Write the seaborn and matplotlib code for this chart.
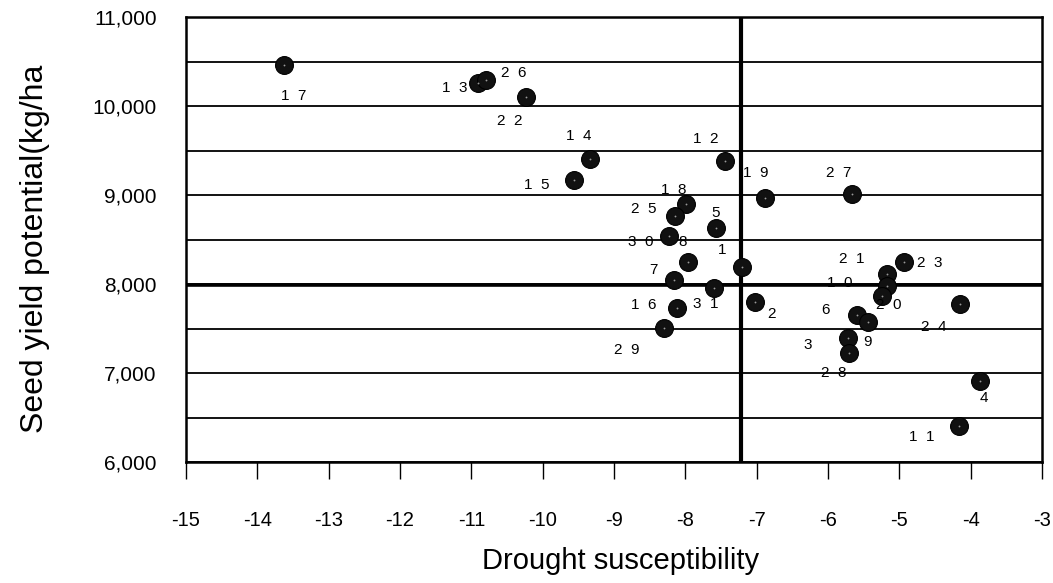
import matplotlib
matplotlib.use("Agg")
import matplotlib.pyplot as plt
import seaborn as sns
import pandas as pd
from matplotlib.ticker import MultipleLocator, FuncFormatter

# ---- data ----
genotypes = ["17", "13", "26", "22", "14", "15", "12", "19", "27", "18", "25", "5",
             "30", "8", "1", "7", "31", "16", "29", "2", "23", "21", "10", "20",
             "24", "6", "9", "3", "28", "4", "11"]
drought_susceptibility = [-13.63, -10.90, -10.80, -10.23, -9.34, -9.56, -7.44, -6.89,
                          -5.67, -7.99, -8.15, -7.57, -8.23, -7.96, -7.21, -8.16,
                          -7.60, -8.12, -8.30, -7.03, -4.94, -5.18, -5.18, -5.24,
                          -4.15, -5.59, -5.44, -5.72, -5.71, -3.87, -4.16]
seed_yield = [10460, 10260, 10290, 10100, 9410, 9170, 9380, 8970, 9010, 8900, 8760,
              8630, 8540, 8250, 8190, 8050, 7960, 7730, 7510, 7800, 8250, 8110,
              7980, 7870, 7770, 7650, 7570, 7390, 7220, 6910, 6410]
ref_x = -7.22   # vertical reference line
ref_y = 7990    # horizontal reference line

# label offsets in points (layout only)
label_offsets = {
    "17": (7, -22), "13": (-17, -4), "26": (20, 5), "22": (-12, -17),
    "14": (-8, 16), "15": (-27, -4), "12": (-14, 16), "19": (-6, 18),
    "27": (-9, 15), "18": (-9, 10), "25": (-22, 5), "5": (0, 11),
    "30": (-20, -4), "8": (-4, 14), "1": (-14, 12), "7": (-15, 7),
    "31": (-6, -12), "16": (-24, 2), "29": (-27, -16), "2": (12, -9),
    "23": (19, -1), "21": (-25, 11), "10": (-34, 2), "20": (5, -7),
    "24": (-19, -16), "6": (-23, 4), "9": (0, -14), "3": (-29, -5),
    "28": (-11, -14), "4": (3, -12), "11": (-27, -8),
}

df = pd.DataFrame({"genotype": genotypes, "ds": drought_susceptibility, "sy": seed_yield})

sns.set_theme(style="white")
plt.rcParams["font.family"] = ["Liberation Sans", "DejaVu Sans"]
plt.rcParams["axes.unicode_minus"] = False

fig = plt.figure(figsize=(10.53, 5.83), dpi=100)
ax = fig.add_axes([0.1766, 0.2075, 0.8130, 0.7633])

ax.set_xlim(-15, -3)
ax.set_ylim(6000, 11000)
ax.yaxis.set_major_locator(MultipleLocator(1000))
ax.yaxis.set_minor_locator(MultipleLocator(500))
ax.yaxis.set_major_formatter(FuncFormatter(lambda v, p: f"{int(v):,}"))
ax.xaxis.set_major_locator(MultipleLocator(1))
ax.grid(False)
ax.yaxis.grid(True, which="both", color="black", linewidth=1.3)
ax.set_axisbelow(True)

# reference lines
ax.axvline(ref_x, color="black", linewidth=3, zorder=2)
ax.axhline(ref_y, color="black", linewidth=2.6, zorder=2)

sns.scatterplot(data=df, x="ds", y="sy", ax=ax, s=165, color="#111111",
                edgecolor="#000000", linewidth=0.8, zorder=3, legend=False)
# speckled texture on markers
ax.scatter(df["ds"], df["sy"], s=7, marker=".", color="#9a9a9a", zorder=4, linewidths=0)

for g, x, y in zip(df["genotype"], df["ds"], df["sy"]):
    dx, dy = label_offsets[g]
    ax.annotate("  ".join(g), (x, y), xytext=(dx, dy), textcoords="offset points",
                ha="center", va="center", fontsize=11, color="black", zorder=5)

for s in ax.spines.values():
    s.set_color("black")
    s.set_linewidth(1.8)
    s.set_visible(True)

ax.tick_params(axis="x", which="major", direction="out", length=12, width=1,
               color="black", pad=23, labelsize=14.5)
ax.tick_params(axis="y", which="both", length=0, pad=21, labelsize=15)
ax.tick_params(axis="x", bottom=True)
for lbl in ax.get_xticklabels() + ax.get_yticklabels():
    lbl.set_color("black")

ax.set_xlabel("Drought susceptibility", fontsize=21, color="black")
ax.set_ylabel("Seed yield potential(kg/ha", fontsize=23, color="black")
ax.xaxis.set_label_coords(0.508, -0.19)
ax.yaxis.set_label_coords(-0.159, 0.48)

fig.savefig("out.png", dpi=100, facecolor="white")
